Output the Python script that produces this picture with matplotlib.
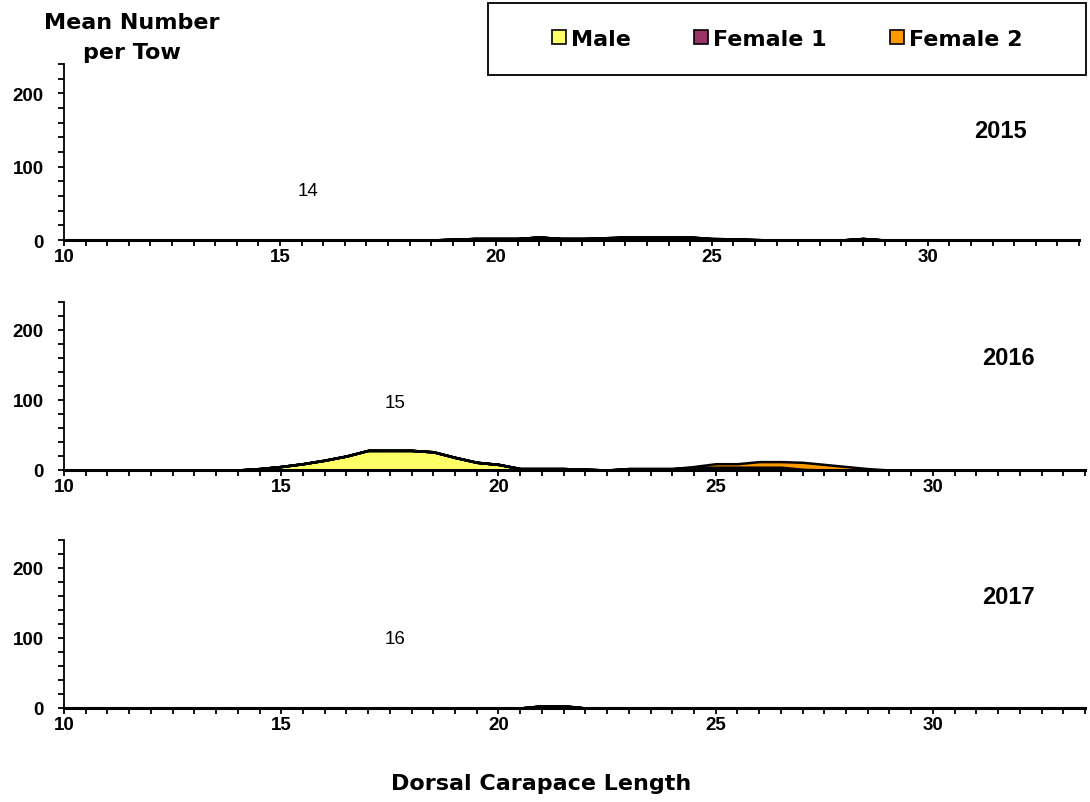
#!/usr/bin/env python

# Length-frequency panels (mean number per tow) for 2015-2017,
# stacked areas for Male / Female 1 / Female 2.

import numpy as np
import matplotlib
matplotlib.use('Agg')
import matplotlib.pyplot as plt
from matplotlib.patches import Patch, Rectangle
from matplotlib.ticker import MultipleLocator

plt.rcParams['font.family'] = ['Liberation Sans', 'DejaVu Sans']
WORD_FONT = ['DejaVu Sans']

# Length classes, 10 to 33.5 by 0.5
lengths = np.arange(10.0, 33.51, 0.5)

years = ['2015', '2016', '2017']
series_names = ['Male', 'Female 1', 'Female 2']
series_colors = ['#FFFF66', '#993366', '#FF9900']
tow_labels = ['14', '15', '16']

#            10-13.5           14-17.5              18-21.5             22-25.5            26-29.5          30-33.5
male_2015 = [0, 0, 0, 0, 0, 0, 0, 0,  0, 0, 0, 0, 0, 0, 0, 0,  0, 0, 1, 2, 2, 2, 4, 2,  2, 1, 1, 1, 1, 1, 1, 1,  0.5, 0, 0, 0, 0, 2, 0, 0,  0, 0, 0, 0, 0, 0, 0, 0]
fem1_2015 = [0, 0, 0, 0, 0, 0, 0, 0,  0, 0, 0, 0, 0, 0, 0, 0,  0, 0, 0, 0, 0, 0, 0, 0,  0, 2, 3, 3, 3, 3, 1, 0.5, 0, 0, 0, 0, 0, 0, 0, 0,  0, 0, 0, 0, 0, 0, 0, 0]
fem2_2015 = [0, 0, 0, 0, 0, 0, 0, 0,  0, 0, 0, 0, 0, 0, 0, 0,  0, 0, 0, 0, 0, 0, 0, 0,  0, 0, 0, 0, 0, 0, 0, 0,  0, 0, 0, 0, 0, 0, 0, 0,  0, 0, 0, 0, 0, 0, 0, 0]

male_2016 = [0, 0, 0, 0, 0, 0, 0, 0,  0, 2, 5, 9, 14, 20, 28, 28,  28, 26, 18, 11, 8, 2, 2, 2,  1, 0, 0, 0, 0, 0, 0, 0,  0, 0, 0, 0, 0, 0, 0, 0,  0, 0, 0, 0, 0, 0, 0, 0]
fem1_2016 = [0, 0, 0, 0, 0, 0, 0, 0,  0, 0, 0, 0, 0, 0, 0, 0,  0, 0, 0, 0, 0, 0, 0, 0,  0, 0, 2, 2, 2, 3, 4, 4,  4, 4, 1, 0, 0, 0, 0, 0,  0, 0, 0, 0, 0, 0, 0, 0]
fem2_2016 = [0, 0, 0, 0, 0, 0, 0, 0,  0, 0, 0, 0, 0, 0, 0, 0,  0, 0, 0, 0, 0, 0, 0, 0,  0, 0, 0, 0, 0, 2, 5, 5,  8, 8, 10, 8, 5, 2, 0, 0,  0, 0, 0, 0, 0, 0, 0, 0]

male_2017 = [0, 0, 0, 0, 0, 0, 0, 0,  0, 0, 0, 0, 0, 0, 0, 0,  0, 0, 0, 0, 0, 0, 3, 3,  0, 0, 0, 0, 0, 0, 0, 0,  0, 0, 0, 0, 0, 0, 0, 0,  0, 0, 0, 0, 0, 0, 0, 0]
fem1_2017 = [0, 0, 0, 0, 0, 0, 0, 0,  0, 0, 0, 0, 0, 0, 0, 0,  0, 0, 0, 0, 0, 0, 0, 0,  0, 0, 0, 0, 0, 0, 0, 0,  0, 0, 0, 0, 0, 0, 0, 0,  0, 0, 0, 0, 0, 0, 0, 0]
fem2_2017 = [0, 0, 0, 0, 0, 0, 0, 0,  0, 0, 0, 0, 0, 0, 0, 0,  0, 0, 0, 0, 0, 0, 0, 0,  0, 0, 0, 0, 0, 0, 0, 0,  0, 0, 0, 0, 0, 0, 0, 0,  0, 0, 0, 0, 0, 0, 0, 0]

panels = [(male_2015, fem1_2015, fem2_2015),
          (male_2016, fem1_2016, fem2_2016),
          (male_2017, fem1_2017, fem2_2017)]

W, H = 1090, 803
fig = plt.figure(figsize=(W/100, H/100), dpi=100, facecolor='white')

# axes boxes in pixels: left, right, top, bottom
boxes = [(64, 1079, 65, 241),
         (64, 1085, 303, 471),
         (64, 1085, 541, 709)]
year_pos = [(31.67, 149), (31.73, 161), (31.73, 159)]
tow_pos = [(15.65, 68), (17.62, 97), (17.62, 99)]

for i, (l, r, t, b) in enumerate(boxes):
    ax = fig.add_axes([l/W, 1 - b/H, (r - l)/W, (b - t)/H])
    ax.stackplot(lengths, *panels[i], colors=series_colors,
                 edgecolor='black', linewidth=1.8, zorder=2)
    ax.set_xlim(10, 33.5)
    ax.set_ylim(0, 240)
    ax.spines['top'].set_visible(False)
    ax.spines['right'].set_visible(False)
    ax.spines['left'].set_linewidth(1.3)
    ax.spines['bottom'].set_linewidth(2.2)
    ax.spines['bottom'].set_zorder(3)
    ax.xaxis.set_major_locator(MultipleLocator(5))
    ax.xaxis.set_minor_locator(MultipleLocator(0.5))
    ax.yaxis.set_major_locator(MultipleLocator(100))
    ax.yaxis.set_minor_locator(MultipleLocator(20))
    ax.tick_params(axis='both', which='both', direction='out', length=4.5,
                   width=1.3, color='black')
    ax.tick_params(axis='x', which='major', pad=1.5, labelsize=13.5)
    ax.tick_params(axis='y', which='major', pad=10, labelsize=13.5)
    for lab in ax.get_xticklabels() + ax.get_yticklabels():
        lab.set_fontweight('bold')
    ax.text(year_pos[i][0], year_pos[i][1], years[i], ha='center', va='center',
            fontsize=17, fontweight='bold')
    ax.text(tow_pos[i][0], tow_pos[i][1], tow_labels[i], ha='center', va='center',
            fontsize=13.5)

# two-line y title, placed line by line
fig.text(132/W, 1 - 23/H, 'Mean Number', ha='center', va='center',
         fontsize=16, fontweight='bold', family=WORD_FONT)
fig.text(132/W, 1 - 53/H, 'per Tow', ha='center', va='center',
         fontsize=16, fontweight='bold', family=WORD_FONT)
fig.text(541/W, 1 - 784/H, 'Dorsal Carapace Length', ha='center', va='center',
         fontsize=16, fontweight='bold', family=WORD_FONT)

# legend box
fig.patches.append(Rectangle((488/W, 1 - 76/H), 598/W, 72/H, transform=fig.transFigure,
                             facecolor='white', edgecolor='black', linewidth=1.3))
handles = [Patch(facecolor=c, edgecolor='black', linewidth=1.2) for c in series_colors]
fig.legend(handles, series_names, ncol=3, frameon=False,
           loc='center', bbox_to_anchor=((488 + 299)/W, 1 - 40/H),
           prop={'weight': 'bold', 'size': 16, 'family': WORD_FONT},
           handlelength=0.63, handleheight=0.63, handletextpad=0.22, columnspacing=2.85)

fig.savefig('out.png', dpi=100)
